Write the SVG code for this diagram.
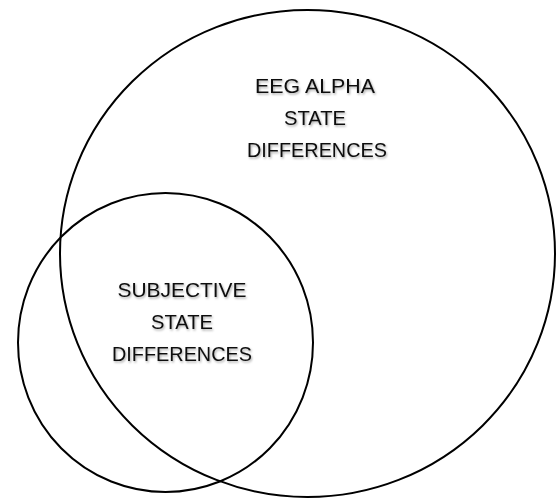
<svg xmlns="http://www.w3.org/2000/svg" width="556" height="498" viewBox="0 0 556 498">
<defs>
<filter id="sh" x="-10%" y="-20%" width="130%" height="150%">
<feDropShadow dx="1" dy="1.5" stdDeviation="0.8" flood-color="#000" flood-opacity="0.35"/>
</filter>
</defs>
<style>
.ring{fill:none;stroke:#000;stroke-width:2}
.lbl{font-family:"Liberation Sans",Arial,sans-serif;font-size:21px;fill:#111;text-anchor:middle;filter:url(#sh)}
</style>
<rect width="556" height="498" fill="#fff"/>
<g id="eeg">
<ellipse class="ring" cx="307.5" cy="253.5" rx="247.5" ry="243.5"/>
<text class="lbl" x="315" y="93" textLength="120" lengthAdjust="spacingAndGlyphs">EEG ALPHA</text>
<text class="lbl" x="315" y="125" textLength="62" lengthAdjust="spacingAndGlyphs">STATE</text>
<text class="lbl" x="317" y="157" textLength="140" lengthAdjust="spacingAndGlyphs">DIFFERENCES</text>
</g>
<g id="subjective">
<ellipse class="ring" cx="165.5" cy="342.5" rx="147.5" ry="149.5"/>
<text class="lbl" x="182" y="297" textLength="129" lengthAdjust="spacingAndGlyphs">SUBJECTIVE</text>
<text class="lbl" x="182" y="329" textLength="62" lengthAdjust="spacingAndGlyphs">STATE</text>
<text class="lbl" x="182" y="361" textLength="140" lengthAdjust="spacingAndGlyphs">DIFFERENCES</text>
</g>
<g id="connectors"></g>
</svg>
